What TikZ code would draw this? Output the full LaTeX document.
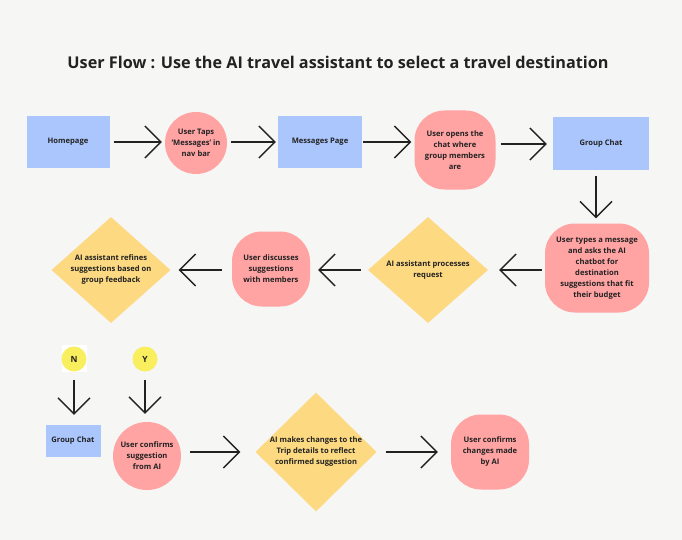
\documentclass[tikz,border=0pt]{standalone}
\usepackage{fontspec}
\setmainfont{Open Sans}
\usetikzlibrary{arrows.meta,shapes.geometric}
\definecolor{bg}{HTML}{F6F6F4}
\definecolor{bluebox}{HTML}{AAC6FD}
\definecolor{pinkbox}{HTML}{FFA3A3}
\definecolor{yelbox}{HTML}{FDD982}
\definecolor{yelcirc}{HTML}{F8EE5E}
\definecolor{ink}{HTML}{222222}
\begin{document}
\begin{tikzpicture}[x=1pt,y=-1pt,
  lbl/.style={font=\bfseries\fontsize{7.6}{11}\selectfont, text=ink, align=center, inner sep=0pt},
  rectbox/.style={lbl, fill=bluebox, rectangle},
  blob/.style={lbl, fill=pinkbox, rectangle, rounded corners=#1},
  blob/.default=30pt,
  circbox/.style={lbl, fill=pinkbox, circle},
  diam/.style={fill=yelbox, diamond, inner sep=0pt},
  yn/.style={lbl, font=\bfseries\fontsize{8.5}{10}\selectfont, fill=yelcirc, circle, minimum size=25pt},
  arr/.style={draw=ink, line width=1.4pt, -{Straight Barb[length=16pt,width=32pt,line width=1.4pt]}}
]
\fill[bg] (0,0) rectangle (682,540);
\useasboundingbox (0,0) rectangle (682,540);

\node[font=\bfseries\fontsize{15}{18}\selectfont, text=ink, inner sep=0pt] (title) at (338,62) {\resizebox{541pt}{!}{User Flow : Use the AI travel assistant to select a travel destination}};

% row 1
\node[rectbox, minimum width=83pt, minimum height=52pt] (home) at (68,142) {Homepage};
\node[circbox, minimum size=62pt] (tap) at (196,143) {User Taps\\‘Messages’ in\\nav bar};
\node[rectbox, minimum width=84pt, minimum height=52pt] (msg) at (320,142) {Messages Page};
\node[blob=30pt, minimum width=81pt, minimum height=79pt] (open) at (455,150) {User opens the\\chat where\\group members\\are};
\node[rectbox, minimum width=96pt, minimum height=53pt] (gc) at (601,144) {Group Chat};

% row 2
\node[blob=30pt, minimum width=104pt, minimum height=89pt] (types) at (597,268) {User types a message\\and asks the AI\\chatbot for\\destination\\suggestions that fit\\their budget};
\node[diam, minimum width=120pt, minimum height=106pt] (proc) at (428,270) {};
\node[lbl] (proct) at (proc) {AI assistant processes\\request};
\node[blob=30pt, minimum width=78pt, minimum height=75pt] (disc) at (271,269) {User discusses\\suggestions\\with members};
\node[diam, minimum width=119pt, minimum height=106pt] (refine) at (111,270) {};
\node[lbl] (refinet) at (refine) {AI assistant refines\\suggestions based on\\group feedback};

% row 3
\fill[white] (62,345) rectangle (87,372);
\node[yn] (n) at (74,359) {N};
\node[yn] (y) at (145,359) {Y};
\node[rectbox, minimum width=55pt, minimum height=32pt] (gc2) at (73,441) {Group Chat};
\node[circbox, minimum size=68pt] (conf) at (147,456) {User confirms\\suggestion\\from AI};
\node[diam, minimum width=121pt, minimum height=119pt] (make) at (316,452) {};
\node[lbl] (maket) at (make) {AI makes changes to the\\Trip details to reflect\\confirmed suggestion};
\node[blob=30pt, minimum width=78pt, minimum height=75pt] (done) at (490,452) {User confirms\\changes made\\by AI};

% connectors
\draw[arr, shorten <=4pt, shorten >=3pt] (home.east) -- (home.east -| tap.west);
\draw[arr, shorten <=4pt, shorten >=2pt] (tap.east |- msg.west) -- (msg.west);
\draw[arr, shorten <=1pt, shorten >=3pt] (msg.east) -- (msg.east -| open.west);
\draw[arr, shorten <=5pt, shorten >=6pt] (open.east |- gc.west) -- (gc.west);
\draw[arr, shorten <=5pt, shorten >=5pt] (gc.south -| 596,0) -- (types.north -| 596,0);
\draw[arr, shorten <=3pt, shorten >=11pt] (types.west |- proc.east) -- (proc.east);
\draw[arr, shorten <=7pt, shorten >=8pt] (proc.west) -- (proc.west -| disc.east);
\draw[arr, shorten <=10pt, shorten >=8pt] (disc.west |- refine.east) -- (refine.east);
\draw[arr, shorten <=8pt, shorten >=10pt] (n.south) -- (n.south |- gc2.north);
\draw[arr, shorten <=8pt, shorten >=8pt] (y.south) -- (y.south |- conf.north);
\draw[arr, shorten <=9pt, shorten >=15pt] (conf.east |- make.west) -- (make.west);
\draw[arr, shorten <=9pt, shorten >=13pt] (make.east) -- (make.east -| done.west);
\end{tikzpicture}
\end{document}
